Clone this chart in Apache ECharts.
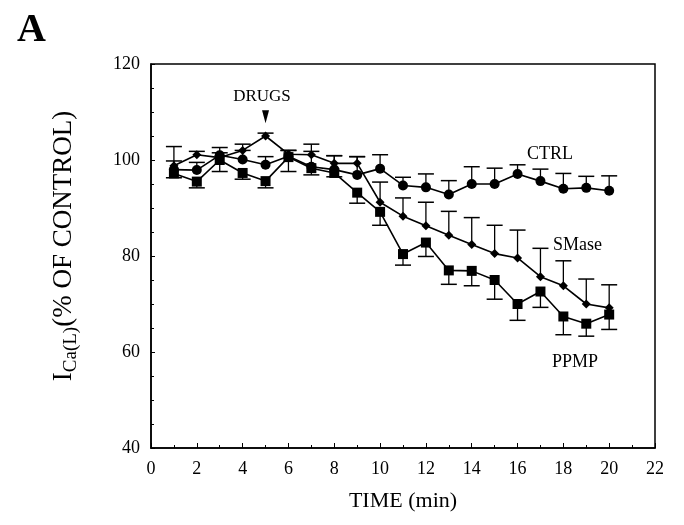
<!DOCTYPE html>
<html><head><meta charset="utf-8">
<script src="https://cdn.jsdelivr.net/npm/echarts@6/dist/echarts.min.js"></script>
<style>html,body{margin:0;padding:0;background:#fff}#c{width:684px;height:525px}</style>
</head><body><div id="c"></div>
<script>
const times = [1,2,3,4,5,6,7,8,9,10,11,12,13,14,15,16,17,18,19,20];
const ctrl = [98, 97.9, 101, 100.1, 99, 100.8, 98.6, 98, 96.9, 98.2, 94.7, 94.3, 92.8, 95, 95, 97.1, 95.6, 94, 94.2, 93.6];
const ctrlErrTop = [102.8, 99.5, 102.6, 102, 100.7, 102, 103.3, 100.9, 100.7, 101.1, 96.4, 97.1, 95.7, 98.6, 98.3, 99, 98.1, 97.2, 96.6, 96.7];
const smase = [98.8, 101.1, 100.5, 102, 105, 101.2, 101.1, 99.3, 99.3, 91.2, 88.3, 86.3, 84.3, 82.4, 80.5, 79.6, 75.7, 73.8, 70, 69.2];
const smaseErrTop = [99.8, 101.8, 101.5, 103.3, 105.6, 102, 101.8, 100.9, 100.7, 95.4, 92.1, 91.2, 89.3, 88, 86.4, 85.4, 81.6, 79, 75.2, 74];
const ppmp = [97.2, 95.5, 100, 97.3, 95.6, 100.6, 98.3, 97.3, 93.2, 89.2, 80.4, 82.8, 77, 76.9, 75, 70, 72.6, 67.4, 65.9, 67.8];
const ppmpErrBottom = [96.3, 94.2, 97.6, 96, 94.2, 97.6, 96.9, 96.5, 91, 86.4, 78.1, 79.9, 74.1, 73.8, 71, 66.6, 69.3, 63.6, 63.3, 64.7];
const xTicks = [0,2,4,6,8,10,12,14,16,18,20,22];
const yTicks = [40,60,80,100,120];
const drugsTime = 5;

const serif = '"Liberation Serif", "DejaVu Serif", serif';
function pairs(v){ return times.map((t,i)=>[t,v[i]]); }
function errData(v,e){ return times.map((t,i)=>[t,v[i],e[i]]); }
function errRender(params, api){
  const x=api.value(0), y=api.value(1), e=api.value(2);
  const p0=api.coord([x,y]), p1=api.coord([x,e]);
  const w=8;
  return {type:'group', children:[
    {type:'line', shape:{x1:p0[0],y1:p0[1],x2:p1[0],y2:p1[1]}, style:{stroke:'#000',lineWidth:1.3}},
    {type:'line', shape:{x1:p1[0]-w,y1:p1[1],x2:p1[0]+w,y2:p1[1]}, style:{stroke:'#000',lineWidth:1.5}}
  ]};
}
const chart = echarts.init(document.getElementById('c'));
chart.setOption({
  animation:false,
  backgroundColor:'#fff',
  grid:{left:151,right:29,top:64,bottom:77,show:true,borderColor:'#000',borderWidth:1.5,backgroundColor:'transparent'},
  xAxis:{type:'value',min:xTicks[0],max:xTicks[xTicks.length-1],interval:2,
    name:'TIME (min)',nameLocation:'middle',nameGap:42,
    nameTextStyle:{fontFamily:serif,fontSize:22,color:'#000'},
    axisLine:{show:true,lineStyle:{color:'#000',width:1.5}},
    axisTick:{show:true,inside:true,length:5,lineStyle:{color:'#000',width:1}},
    minorTick:{show:true,splitNumber:2,length:3,lineStyle:{color:'#000',width:1}},
    axisLabel:{fontFamily:serif,fontSize:18,color:'#000',margin:12},
    splitLine:{show:false}},
  yAxis:{type:'value',min:yTicks[0],max:yTicks[yTicks.length-1],interval:20,
    name:'{i|I}{s|Ca(L)}{i|(% OF CONTROL)}',nameLocation:'middle',nameGap:70,nameRotate:90,
    nameTextStyle:{fontFamily:serif,color:'#000',padding:[0,0,0,20],rich:{
      i:{fontFamily:serif,fontSize:27,color:'#000',lineHeight:34,verticalAlign:'middle'},
      s:{fontFamily:serif,fontSize:19,color:'#000',lineHeight:34,verticalAlign:'bottom',padding:[10,0,0,0]}}},
    axisLine:{show:true,lineStyle:{color:'#000',width:1.5}},
    axisTick:{show:true,inside:true,length:4,lineStyle:{color:'#000',width:1}},
    minorTick:{show:true,splitNumber:4,length:3,lineStyle:{color:'#000',width:1}},
    axisLabel:{fontFamily:serif,fontSize:18,color:'#000',margin:11},
    splitLine:{show:false}},
  series:[
    {type:'custom',name:'ctrlErr',renderItem:errRender,data:errData(ctrl,ctrlErrTop),encode:{x:0,y:[1,2]},z:1},
    {type:'custom',name:'smaseErr',renderItem:errRender,data:errData(smase,smaseErrTop),encode:{x:0,y:[1,2]},z:1},
    {type:'custom',name:'ppmpErr',renderItem:errRender,data:errData(ppmp,ppmpErrBottom),encode:{x:0,y:[1,2]},z:1},
    {type:'line',name:'CTRL',data:pairs(ctrl),symbol:'circle',symbolSize:10,
      lineStyle:{color:'#000',width:1.6},itemStyle:{color:'#000'},z:3},
    {type:'line',name:'SMase',data:pairs(smase),symbol:'diamond',symbolSize:9,
      lineStyle:{color:'#000',width:1.6},itemStyle:{color:'#000'},z:3,
      markPoint:{symbol:'triangle',symbolSize:[7,13],symbolRotate:180,silent:true,
        itemStyle:{color:'#000'},label:{show:false},
        data:[{coord:[drugsTime,109]}]}},
    {type:'line',name:'PPMP',data:pairs(ppmp),symbol:'rect',symbolSize:10,
      lineStyle:{color:'#000',width:1.6},itemStyle:{color:'#000'},z:3}
  ],
  graphic:[
    {type:'text',x:17,y:31,style:{text:'A',font:'bold 40px '+serif,fill:'#000',align:'left',verticalAlign:'middle'}},
    {type:'text',x:262,y:97,style:{text:'DRUGS',font:'17px '+serif,fill:'#000',align:'center',verticalAlign:'middle'}},
    {type:'text',x:527,y:154,style:{text:'CTRL',font:'18px '+serif,fill:'#000',align:'left',verticalAlign:'middle'}},
    {type:'text',x:553,y:245,style:{text:'SMase',font:'18px '+serif,fill:'#000',align:'left',verticalAlign:'middle'}},
    {type:'text',x:552,y:362,style:{text:'PPMP',font:'18px '+serif,fill:'#000',align:'left',verticalAlign:'middle'}}
  ]
});
</script></body></html>
